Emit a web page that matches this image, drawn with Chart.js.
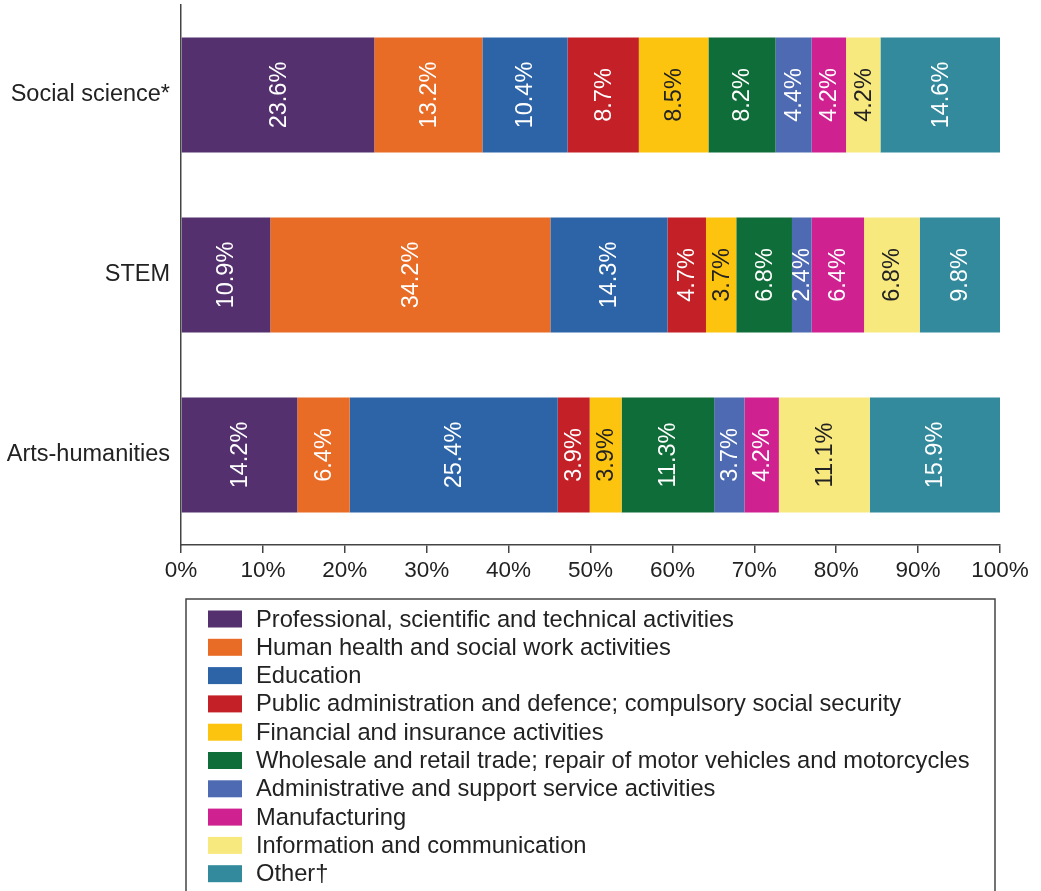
<!DOCTYPE html>
<html>
<head>
<meta charset="utf-8">
<script src="https://cdn.jsdelivr.net/npm/chart.js@4.4.0/dist/chart.umd.min.js"></script>
<style>
  body { margin: 0; background: #fff; }
</style>
</head>
<body>
<canvas id="chart" width="1041" height="891"></canvas>
<script>
const categories = ['Social science*', 'STEM', 'Arts-humanities'];

const professional   = [23.6, 10.9, 14.2];
const humanHealth    = [13.2, 34.2, 6.4];
const education      = [10.4, 14.3, 25.4];
const publicAdmin    = [8.7, 4.7, 3.9];
const financial      = [8.5, 3.7, 3.9];
const wholesale      = [8.2, 6.8, 11.3];
const administrative = [4.4, 2.4, 3.7];
const manufacturing  = [4.2, 6.4, 4.2];
const information    = [4.2, 6.8, 11.1];
const other          = [14.6, 9.8, 15.9];

const seriesNames = [
    'Professional, scientific and technical activities',
    'Human health and social work activities',
    'Education',
    'Public administration and defence; compulsory social security',
    'Financial and insurance activities',
    'Wholesale and retail trade; repair of motor vehicles and motorcycles',
    'Administrative and support service activities',
    'Manufacturing',
    'Information and communication',
    'Other\u2020'
];
const seriesValues = [professional, humanHealth, education, publicAdmin, financial,
    wholesale, administrative, manufacturing, information, other];

const colors = ['#55306f', '#e86b26', '#2c64a7', '#c42027', '#fcc40f',
    '#0e6d38', '#4e6ab2', '#cf2190', '#f8e97f', '#328a9c'];
// labels drawn dark on the two yellows
const darkText = [4, 8];

const FONT = '"Liberation Sans", Arial, Helvetica, sans-serif';
const TEXT = '#222';
const AXIS = '#444';

const barLabels = {
    id: 'barLabels',
    afterDatasetsDraw(chart) {
        const ctx = chart.ctx;
        ctx.save();
        ctx.font = '23.5px ' + FONT;
        ctx.textAlign = 'center';
        ctx.textBaseline = 'middle';
        chart.data.datasets.forEach((ds, i) => {
            chart.getDatasetMeta(i).data.forEach((bar, j) => {
                const cx = (bar.x + bar.base) / 2;
                ctx.save();
                ctx.translate(cx + 1, bar.y);
                ctx.rotate(-Math.PI / 2);
                ctx.fillStyle = darkText.includes(i) ? TEXT : '#fff';
                ctx.fillText(ds.data[j].toFixed(1) + '%', 0, 0);
                ctx.restore();
            });
        });
        ctx.restore();
    }
};

// boxed legend, one item per row, below the axis
const boxLegend = {
    id: 'boxLegend',
    afterDraw(chart) {
        const ctx = chart.ctx;
        ctx.save();
        ctx.strokeStyle = AXIS;
        ctx.lineWidth = 1.5;
        ctx.strokeRect(186, 599, 809, 320);
        ctx.font = '23.7px ' + FONT;
        ctx.textBaseline = 'middle';
        chart.data.datasets.forEach((ds, i) => {
            const y = 619 + i * 28.3;
            ctx.fillStyle = ds.backgroundColor;
            ctx.fillRect(208, y - 8.5, 34, 17);
            ctx.fillStyle = TEXT;
            ctx.fillText(ds.label, 256, y + 1);
        });
        ctx.restore();
    }
};

new Chart(document.getElementById('chart'), {
    type: 'bar',
    data: {
        labels: categories,
        datasets: seriesValues.map((vals, i) => ({
            label: seriesNames[i],
            data: vals,
            backgroundColor: colors[i],
            borderWidth: 0,
            barPercentage: 0.64,
            categoryPercentage: 1
        }))
    },
    options: {
        indexAxis: 'y',
        responsive: false,
        animation: false,
        layout: { padding: { top: 5, right: 41, left: 0, bottom: 304 } },
        plugins: {
            legend: { display: false },
            tooltip: { enabled: false }
        },
        scales: {
            x: {
                stacked: true,
                min: 0,
                max: 100,
                afterFit: scale => { scale.height = 42; },
                ticks: {
                    stepSize: 10,
                    callback: v => v + '%',
                    font: { family: FONT, size: 22.5 },
                    color: TEXT,
                    padding: 4,
                    maxRotation: 0
                },
                grid: {
                    drawOnChartArea: false,
                    drawTicks: true,
                    tickLength: 8,
                    color: AXIS,
                    lineWidth: 1.5
                },
                border: { color: AXIS, width: 1.5 }
            },
            y: {
                stacked: true,
                afterFit: scale => {
                    scale.width = 181;
                    scale.paddingTop = 0;
                    scale.paddingBottom = 0;
                },
                ticks: {
                    font: { family: FONT, size: 23.5 },
                    color: TEXT,
                    padding: 11
                },
                grid: { display: false, drawTicks: false },
                border: { color: AXIS, width: 1.5 }
            }
        }
    },
    plugins: [barLabels, boxLegend]
});
</script>
</body>
</html>
